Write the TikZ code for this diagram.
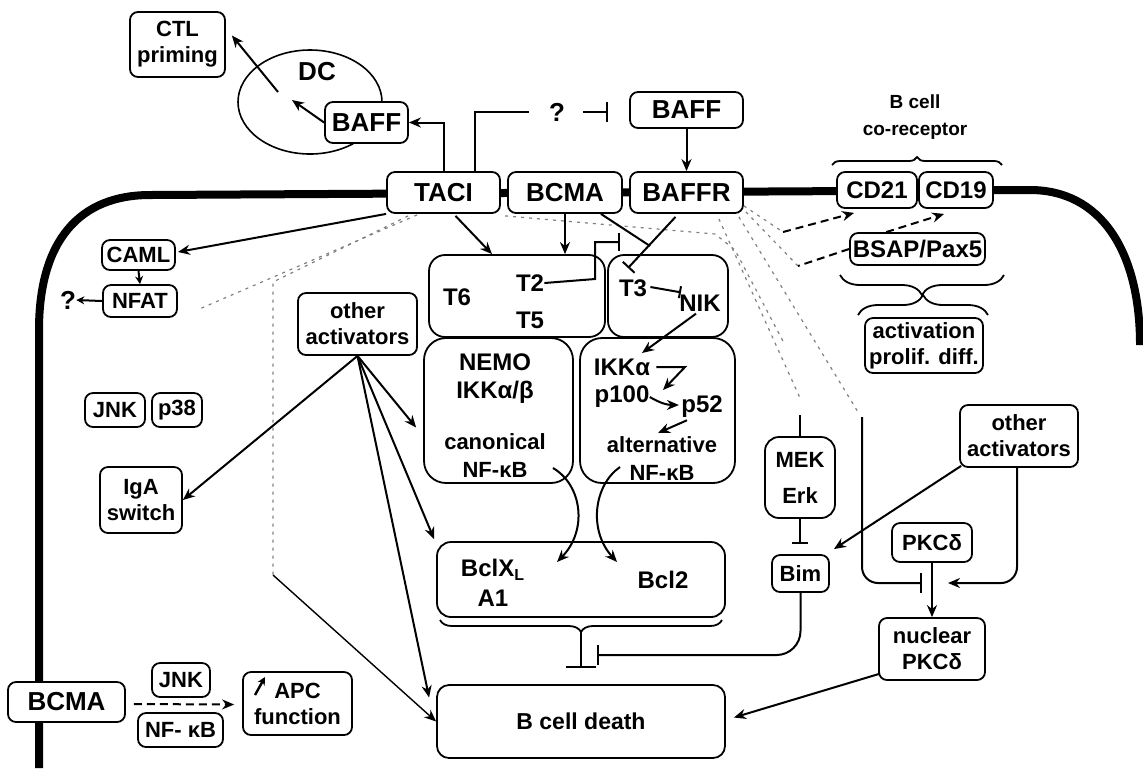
\documentclass[tikz,border=0pt]{standalone}
\usepackage{fontspec}
\setmainfont{Liberation Sans}
\usetikzlibrary{calc,arrows.meta,decorations.pathreplacing}
\newcommand\mybox[6]{\node[box,#1,minimum width={(#4-#2)*0.5pt},minimum height={(#5-#3)*0.5pt}] (#6) at ({(#2+#4)/2},{(#3+#5)/2})}
\begin{document}
\begin{tikzpicture}[x=0.5pt,y=-0.5pt,
  box/.style={draw, line width=0.9pt, rounded corners=4pt, fill=white, inner sep=0pt, align=center, font=\fontsize{11}{13}\selectfont\bfseries},
  bigbox/.style={box, rounded corners=8pt},
  fb/.style={font=\fontsize{13}{15}\selectfont\bfseries},
  fm/.style={font=\fontsize{12}{14}\selectfont\bfseries},
  fs/.style={font=\fontsize{11}{14}\selectfont\bfseries},
  lbl/.style={inner sep=0pt, align=center},
  arr/.style={line width=1pt, -{Stealth[length=6pt,width=5pt]}},
  sarr/.style={line width=1pt, -{Stealth[length=4pt,width=4pt]}},
  inh/.style={line width=1pt, -{Bar[width=8pt,line width=1pt]}},
  dots/.style={gray, line width=0.6pt, dash pattern=on 1.5pt off 2.5pt},
  dsh/.style={line width=1pt, dash pattern=on 4pt off 2.5pt},
  membrane/.style={line width=4pt},
  brc/.style={decorate, line width=0.9pt},
]
\useasboundingbox (0,0) rectangle (1143,768);
% membrane
\draw[membrane] (39,768) -- (39,330) .. controls (39,240) and (80,195) .. (150,195) -- (1030,190) .. controls (1100,190) and (1140,250) .. (1140,345);
% DC
\draw[line width=0.8pt] (310,102) ellipse [x radius=36pt, y radius=26pt];

% boxes
\mybox{}{130}{12}{225}{77}{ctl} {CTL\\priming};
\mybox{fb}{325}{102}{408}{143}{dcbaff} {BAFF};
\node[lbl, fb] (dc) at (317,72) {DC};
\mybox{fb}{630}{92}{743}{128}{baff} {BAFF};
\node[lbl, fb] (q1) at (557,112) {?};
\mybox{fb}{387}{172}{500}{213}{taci} {TACI};
\mybox{fb}{508}{172}{622}{213}{bcma} {BCMA};
\mybox{fb}{630}{172}{743}{213}{baffr} {BAFFR};
\node[lbl, font=\fontsize{9.5}{13.5}\selectfont\bfseries] (corec) at (915,117) {B cell\\co-receptor};
\mybox{fm}{837}{172}{917}{208}{cd21} {CD21};
\mybox{fm}{919}{172}{993}{208}{cd19} {CD19};
\mybox{fm}{850}{233}{985}{265}{bsap} {BSAP/Pax5};
\mybox{}{865}{318}{983}{373}{act} {activation\\prolif. diff.};
\mybox{}{102}{240}{175}{270}{caml} {CAML};
\mybox{}{103}{285}{177}{317}{nfat} {NFAT};
\node[lbl, fb] (q2) at (68,300) {?};
\mybox{}{298}{293}{417}{355}{oal} {other\\activators};
\mybox{}{85}{393}{145}{427}{jnk} {JNK};
\mybox{}{152}{393}{202}{427}{p38} {p38};
\mybox{}{100}{467}{182}{533}{iga} {IgA\\switch};
\mybox{bigbox}{429}{255}{605}{337}{traf1} {};
\mybox{bigbox}{608}{255}{728}{337}{traf2} {};
\mybox{bigbox, rounded corners=11pt}{424}{338}{573}{483}{nemo} {};
\mybox{bigbox, rounded corners=11pt}{580}{338}{735}{483}{alt} {};
\mybox{rounded corners=7pt}{765}{437}{835}{518}{mek} {MEK\\[5pt]Erk};
\mybox{}{772}{555}{829}{592}{bim} {Bim};
\mybox{}{960}{405}{1078}{467}{oar} {other\\activators};
\mybox{}{892}{523}{972}{562}{pkc} {PKCδ};
\mybox{}{879}{618}{985}{680}{npkc} {nuclear\\PKCδ};
\mybox{bigbox, rounded corners=7pt}{437}{542}{725}{617}{bcl} {};
\mybox{bigbox, rounded corners=6pt, font=\fontsize{11.5}{13}\selectfont\bfseries}{437}{685}{725}{758}{death} {B cell death};
\mybox{fb}{8}{682}{125}{722}{bcma2} {BCMA};
\mybox{}{152}{663}{210}{697}{jnk2} {JNK};
\mybox{}{138}{713}{223}{747}{nfkb2} {NF- κB};
\mybox{}{243}{672}{352}{735}{apc} {APC\\function};

% text in big boxes
\node[lbl, fm] (t6) at (457,297) {T6};
\node[lbl, fm] (t2) at (530,283) {T2};
\node[lbl, fm] (t5) at (530,320) {T5};
\node[lbl, fm] (t3) at (633,288) {T3};
\node[lbl, fm] (nik) at (700,303) {NIK};
\node[lbl, fm] (nemot) at (495,379) {NEMO\\IKKα/β};
\node[lbl, fs] (canon) at (495,456) {canonical\\NF-κB};
\node[lbl, fm] (ikka) at (622,367) {IKKα};
\node[lbl, fm] (p100) at (622,397) {p100};
\node[lbl, fm] (p52) at (702,407) {p52};
\node[lbl, fs] (altt) at (662,459) {alternative\\NF-κB};
\node[lbl, fm] (bclx) at (493,570) {BclX\textsubscript{L}};
\node[lbl, fm] (a1) at (493,598) {A1};
\node[lbl, fm] (bcl2) at (663,580) {Bcl2};

% named coordinates
\coordinate (j1) at (650,246);
\coordinate (t3bar) at (628,268);
\coordinate (t2bar) at (620,242);
\coordinate (dcin) at (292,100);
\coordinate (dcout) at (278,92);
\coordinate (qbar) at (608,112);
\coordinate (vtop) at (273,282);
\coordinate (vbot) at (273,575);
\coordinate (jn) at (948,583);
\coordinate (pbar) at (922,583);
\coordinate (mektop) at (800,415);
\coordinate (vline) at (862,417);
\coordinate (bimbar) at (597,655);
\coordinate (brtip) at (581,632);
\coordinate (d1) at (783,232);
\coordinate (d2) at (798,266);

% dotted pathways
\draw[dots] ($(taci.south west)+(31,1)$) -- (197,310);
\draw[dots] ($(taci.south west)+(22,2)$) -- (vtop) -- (vbot);
\draw[line width=0.7pt, -{Stealth[length=6pt,width=5pt]}] (vbot) -- (death.west);
\draw[dots] ($(bcma.south west)+(-2,2)$) -- (715,234) -- (735,250) -- (785,345);
\draw[dots] ($(baffr.south east)+(-25,5)$) -- (800,398);
\draw[dots] ($(baffr.south east)+(-5,3)$) -- (858,412);
\draw[dots] ($(baffr.south east)+(0,-8)$) -- (d1);
\draw[dots] ($(baffr.south east)+(2,-2)$) -- (d2);

% dashed
\draw[dsh, -{Stealth[length=6pt,width=5pt]}] (d1) -- ($(cd21.south west)+(18,4)$);
\draw[dsh, -{Stealth[length=6pt,width=5pt]}] ($(bsap.north west)+(37,0)$) -- ($(cd19.south west)+(26,5)$);
\draw[dsh] (bsap.west) -- (d2);
\draw[dsh, -{Stealth[length=6pt,width=5pt]}] ($(bcma2.east)+(8,2)$) -- ($(apc.west)+(-8,1)$);

% braces
\draw[brc, decoration={brace, amplitude=4pt}] (832,165) -- (1002,165);
\draw[brc, decoration={brace, amplitude=10pt}] (1004,275) -- (840,275);
\draw[brc, decoration={brace, amplitude=10pt}] (858,315) -- (988,315);
\draw[brc, decoration={brace, amplitude=6pt}] (722,620) -- (440,620);

% DC
\draw[arr] (dcbaff.west) -- (dcin);
\draw[arr] (dcout) -- ($(ctl.east)+(6,-9)$);
\draw[arr] (taci.north) |- (dcbaff.east);
\draw[line width=1pt] ($(taci.north)+(31,0)$) |- ($(q1.west)+(-20,0)$);
\draw[inh, -{Bar[width=10pt,line width=1pt]}] ($(q1.east)+(18,0)$) -- (qbar);
\draw[arr] (baff.south) -- (baffr.north);

% receptor signalling
\draw[arr] ($(taci.south)+(12,2)$) -- ($(traf1.north)+(-25,0)$);
\draw[arr] (bcma.south) -- (bcma.south |- traf1.north);
\draw[line width=1pt] ($(bcma.south east)+(-22,0)$) -- (j1);
\draw[inh] ($(baffr.south)+(-11,3)$) -- (t3bar);
\draw[inh, -{Bar[width=9pt,line width=1pt]}] (t2.east) -- (595,279) -- (595,242) -- (t2bar);
\draw[inh, -{Bar[width=6pt,line width=1pt]}] ($(t3.east)+(3,-1)$) -- ($(nik.north west)+(2,-2)$);
\draw[arr] ($(nik.south)+(-4,2)$) -- (642,353);
\draw[arr] ($(ikka.east)+(6,0)$) -- (685,367) -- (663,390);
\draw[arr] (p100.east) to[bend right=15] ($(p52.west)+(-2,-2)$);
\draw[arr] ($(p52.south west)+(6,2)$) -- (658,433);
\draw[arr] (553,468) .. controls (582,485) and (588,530) .. (557,562);
\draw[arr] (620,467) .. controls (594,485) and (588,530) .. (617,562);

% left side
\draw[arr] (taci.south west) -- ($(caml.east)+(2,-3)$);
\draw[sarr] (caml.south) -- (nfat.north);
\draw[sarr] (nfat.west) -- (q2.east);
\draw[arr] (oal.south) -- (iga.east);
\draw[arr] (oal.south) -- ($(nemo.west)+(-7,17)$);
\draw[arr] (oal.south) -- ($(bcl.north west)+(-2,-2)$);
\draw[arr] (oal.south) -- ($(death.west)+(-7,-24)$);

% Bcl / death
\draw[inh, -{Bar[width=15pt,line width=1pt]}] (brtip) -- (581,668);
\draw[inh, -{Bar[width=10pt,line width=1pt]}, rounded corners=12pt] (bim.south) |- (bimbar);
\draw[line width=1pt] (mektop) -- (mek.north);
\draw[inh, -{Bar[width=8pt,line width=1pt]}] (mek.south) -- (800,544);
\draw[arr] ($(oar.south west)+(2,-2)$) -- ($(bim.north east)+(4,-5)$);
\draw[arr, rounded corners=8pt] ($(oar.south)+(-2,0)$) |- (jn);
\draw[inh, -{Bar[width=10pt,line width=1pt]}, rounded corners=8pt] (vline) |- (pbar);
\draw[arr] (pkc.south) -- (npkc.north);
\draw[arr] ($(npkc.south west)+(1,-7)$) -- ($(death.east)+(8,-4)$);

% APC icon
\draw[line width=1.2pt, -{Stealth[length=4pt,width=4pt]}] (255,695) -- (265,677);
\end{tikzpicture}
\end{document}
